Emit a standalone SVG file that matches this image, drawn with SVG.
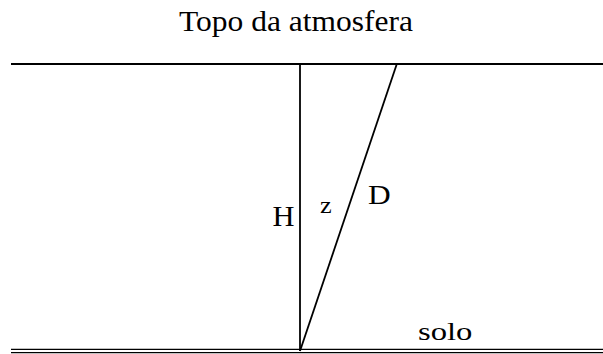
<svg xmlns="http://www.w3.org/2000/svg" width="603" height="354" viewBox="0 0 603 354">
<style>
.ln{stroke:#000;fill:none}
.t{font-family:"Liberation Serif","Times New Roman",serif;fill:#000}
</style>
<rect width="603" height="354" fill="#fff"/>
<g id="title"><text class="t" x="179" y="31" font-size="29" textLength="234" lengthAdjust="spacingAndGlyphs">Topo da atmosfera</text></g>
<g id="connectors">
<line class="ln" x1="11" y1="64" x2="603" y2="64" stroke-width="2"/>
<line class="ln" x1="11" y1="349.3" x2="603" y2="349.3" stroke-width="1.3"/>
<line class="ln" x1="11" y1="352.6" x2="603" y2="352.6" stroke-width="1.3"/>
<line class="ln" x1="300" y1="64" x2="300" y2="351" stroke-width="1.8"/>
<line class="ln" x1="300" y1="351" x2="396.8" y2="64" stroke-width="1.8"/>
</g>
<g id="H"><text class="t" x="272.5" y="226" font-size="30" textLength="22" lengthAdjust="spacingAndGlyphs">H</text></g>
<g id="z"><text class="t" x="320" y="212.5" font-size="24" textLength="11.7" lengthAdjust="spacingAndGlyphs">z</text></g>
<g id="D"><text class="t" x="368" y="203.5" font-size="28" textLength="22.7" lengthAdjust="spacingAndGlyphs">D</text></g>
<g id="solo"><text class="t" x="418" y="340" font-size="26" textLength="54.4" lengthAdjust="spacingAndGlyphs">solo</text></g>
</svg>
